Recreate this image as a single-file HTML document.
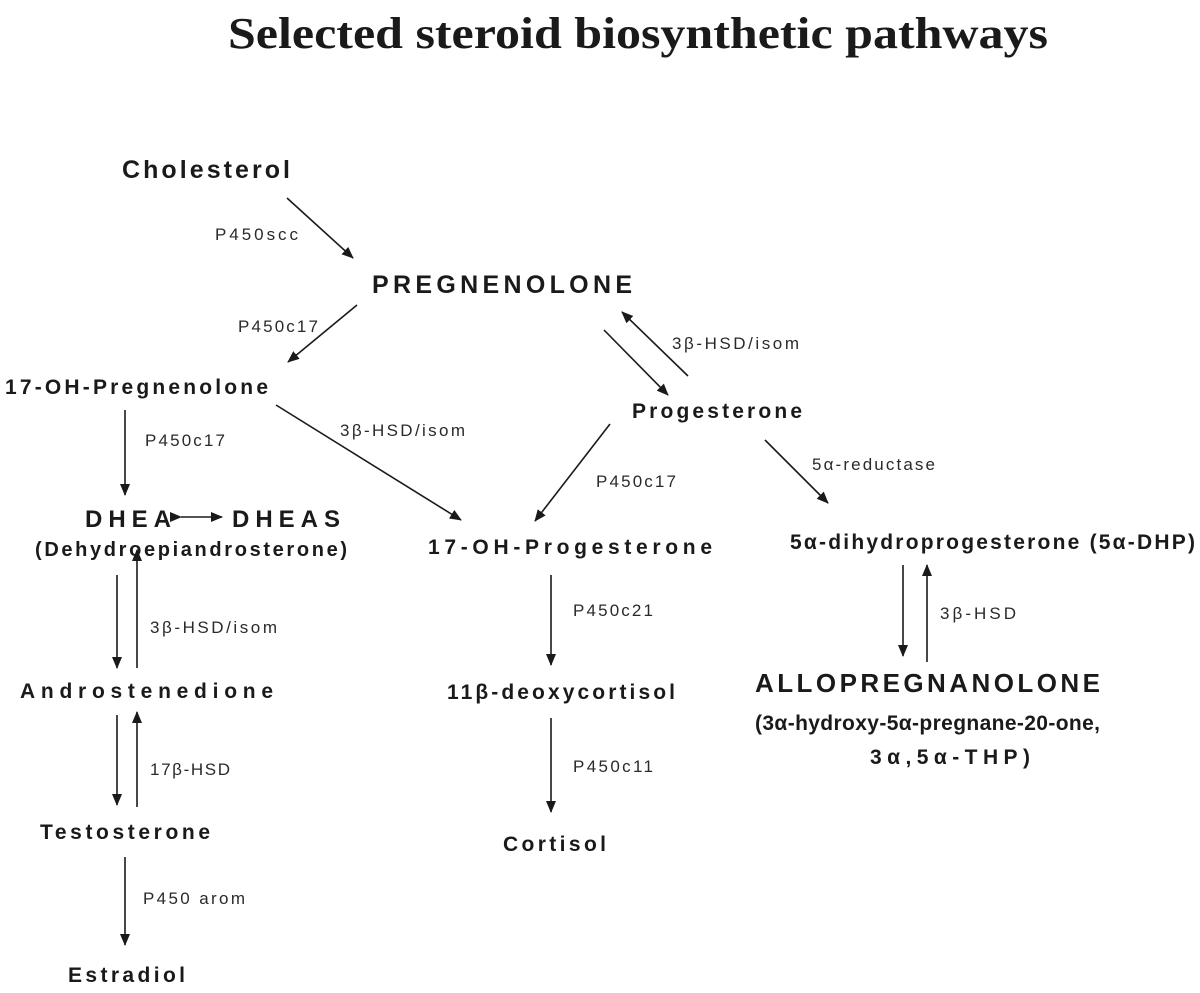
<!DOCTYPE html>
<html><head><meta charset="utf-8"><style>
html,body{margin:0;padding:0;background:#fff;}
svg{display:block;}
.b{font-family:"Liberation Sans",sans-serif;font-weight:bold;fill:#1a1a1a;}
.s{font-family:"Liberation Sans",sans-serif;fill:#2a2a2a;font-size:17px;}
line{stroke:#1a1a1a;stroke-width:1.6;}
</style></head><body>
<svg width="1200" height="993" viewBox="0 0 1200 993">
<defs><marker id="a" markerWidth="12" markerHeight="10" refX="11" refY="5" orient="auto" markerUnits="userSpaceOnUse"><path d="M0,0 L12,5 L0,10 Z" fill="#1a1a1a"/></marker></defs>
<text x="228" y="48" font-family="Liberation Serif,serif" font-weight="bold" font-size="44" fill="#1a1a1a" textLength="820" lengthAdjust="spacingAndGlyphs">Selected steroid biosynthetic pathways</text>

<text class="b" x="122" y="178" font-size="25" textLength="168" lengthAdjust="spacing">Cholesterol</text>
<text class="s" x="215" y="240" textLength="83" lengthAdjust="spacing">P450scc</text>
<line x1="287" y1="198" x2="353" y2="258" marker-end="url(#a)"/>
<text class="b" x="372" y="293" font-size="25" textLength="260" lengthAdjust="spacing">PREGNENOLONE</text>
<text class="s" x="238" y="332" textLength="80" lengthAdjust="spacing">P450c17</text>
<line x1="357" y1="305" x2="288" y2="362" marker-end="url(#a)"/>
<text class="b" x="5" y="394" font-size="21" textLength="263" lengthAdjust="spacing">17-OH-Pregnenolone</text>
<text class="s" x="340" y="436" textLength="125" lengthAdjust="spacing">3β-HSD/isom</text>
<line x1="276" y1="405" x2="461" y2="520" marker-end="url(#a)"/>
<text class="s" x="145" y="446" textLength="80" lengthAdjust="spacing">P450c17</text>
<line x1="125" y1="410" x2="125" y2="495" marker-end="url(#a)"/>
<text class="b" x="85" y="527" font-size="24" textLength="86" lengthAdjust="spacing">DHEA</text>
<line x1="181" y1="517" x2="222" y2="517" marker-end="url(#a)" marker-start="url(#a)"/>
<text class="b" x="232" y="527" font-size="24" textLength="108" lengthAdjust="spacing">DHEAS</text>
<text class="b" x="35" y="556" font-size="20" textLength="312" lengthAdjust="spacing">(Dehydroepiandrosterone)</text>
<line x1="117" y1="575" x2="117" y2="668" marker-end="url(#a)"/>
<line x1="137" y1="668" x2="137" y2="550" marker-end="url(#a)"/>
<text class="s" x="150" y="633" textLength="127" lengthAdjust="spacing">3β-HSD/isom</text>
<text class="b" x="20" y="698" font-size="21" textLength="253" lengthAdjust="spacing">Androstenedione</text>
<line x1="117" y1="715" x2="117" y2="805" marker-end="url(#a)"/>
<line x1="137" y1="807" x2="137" y2="712" marker-end="url(#a)"/>
<text class="s" x="150" y="775" textLength="80" lengthAdjust="spacing">17β-HSD</text>
<text class="b" x="40" y="839" font-size="21" textLength="170" lengthAdjust="spacing">Testosterone</text>
<text class="s" x="143" y="904" textLength="102" lengthAdjust="spacing">P450 arom</text>
<line x1="125" y1="857" x2="125" y2="945" marker-end="url(#a)"/>
<text class="b" x="68" y="982" font-size="21" textLength="117" lengthAdjust="spacing">Estradiol</text>

<line x1="604" y1="330" x2="668" y2="395" marker-end="url(#a)"/>
<line x1="688" y1="376" x2="622" y2="312" marker-end="url(#a)"/>
<text class="s" x="672" y="349" textLength="127" lengthAdjust="spacing">3β-HSD/isom</text>
<text class="b" x="632" y="418" font-size="21" textLength="170" lengthAdjust="spacing">Progesterone</text>
<line x1="610" y1="424" x2="535" y2="521" marker-end="url(#a)"/>
<text class="s" x="596" y="487" textLength="80" lengthAdjust="spacing">P450c17</text>
<text class="b" x="428" y="554" font-size="21" textLength="284" lengthAdjust="spacing">17-OH-Progesterone</text>
<line x1="551" y1="575" x2="551" y2="665" marker-end="url(#a)"/>
<text class="s" x="573" y="616" textLength="80" lengthAdjust="spacing">P450c21</text>
<text class="b" x="447" y="699" font-size="21" textLength="228" lengthAdjust="spacing">11β-deoxycortisol</text>
<line x1="551" y1="718" x2="551" y2="812" marker-end="url(#a)"/>
<text class="s" x="573" y="772" textLength="80" lengthAdjust="spacing">P450c11</text>
<text class="b" x="503" y="851" font-size="21" textLength="103" lengthAdjust="spacing">Cortisol</text>

<line x1="765" y1="440" x2="828" y2="503" marker-end="url(#a)"/>
<text class="s" x="812" y="470" textLength="123" lengthAdjust="spacing">5α-reductase</text>
<text class="b" x="790" y="549" font-size="21" textLength="405" lengthAdjust="spacing">5α-dihydroprogesterone (5α-DHP)</text>
<line x1="903" y1="565" x2="903" y2="656" marker-end="url(#a)"/>
<line x1="927" y1="662" x2="927" y2="565" marker-end="url(#a)"/>
<text class="s" x="940" y="619" textLength="76" lengthAdjust="spacing">3β-HSD</text>
<text class="b" x="755" y="692" font-size="26" textLength="345" lengthAdjust="spacing">ALLOPREGNANOLONE</text>
<text class="b" x="755" y="730" font-size="21" textLength="345" lengthAdjust="spacing">(3α-hydroxy-5α-pregnane-20-one,</text>
<text class="b" x="870" y="764" font-size="21" textLength="160" lengthAdjust="spacing">3α,5α-THP)</text>
</svg>
</body></html>
